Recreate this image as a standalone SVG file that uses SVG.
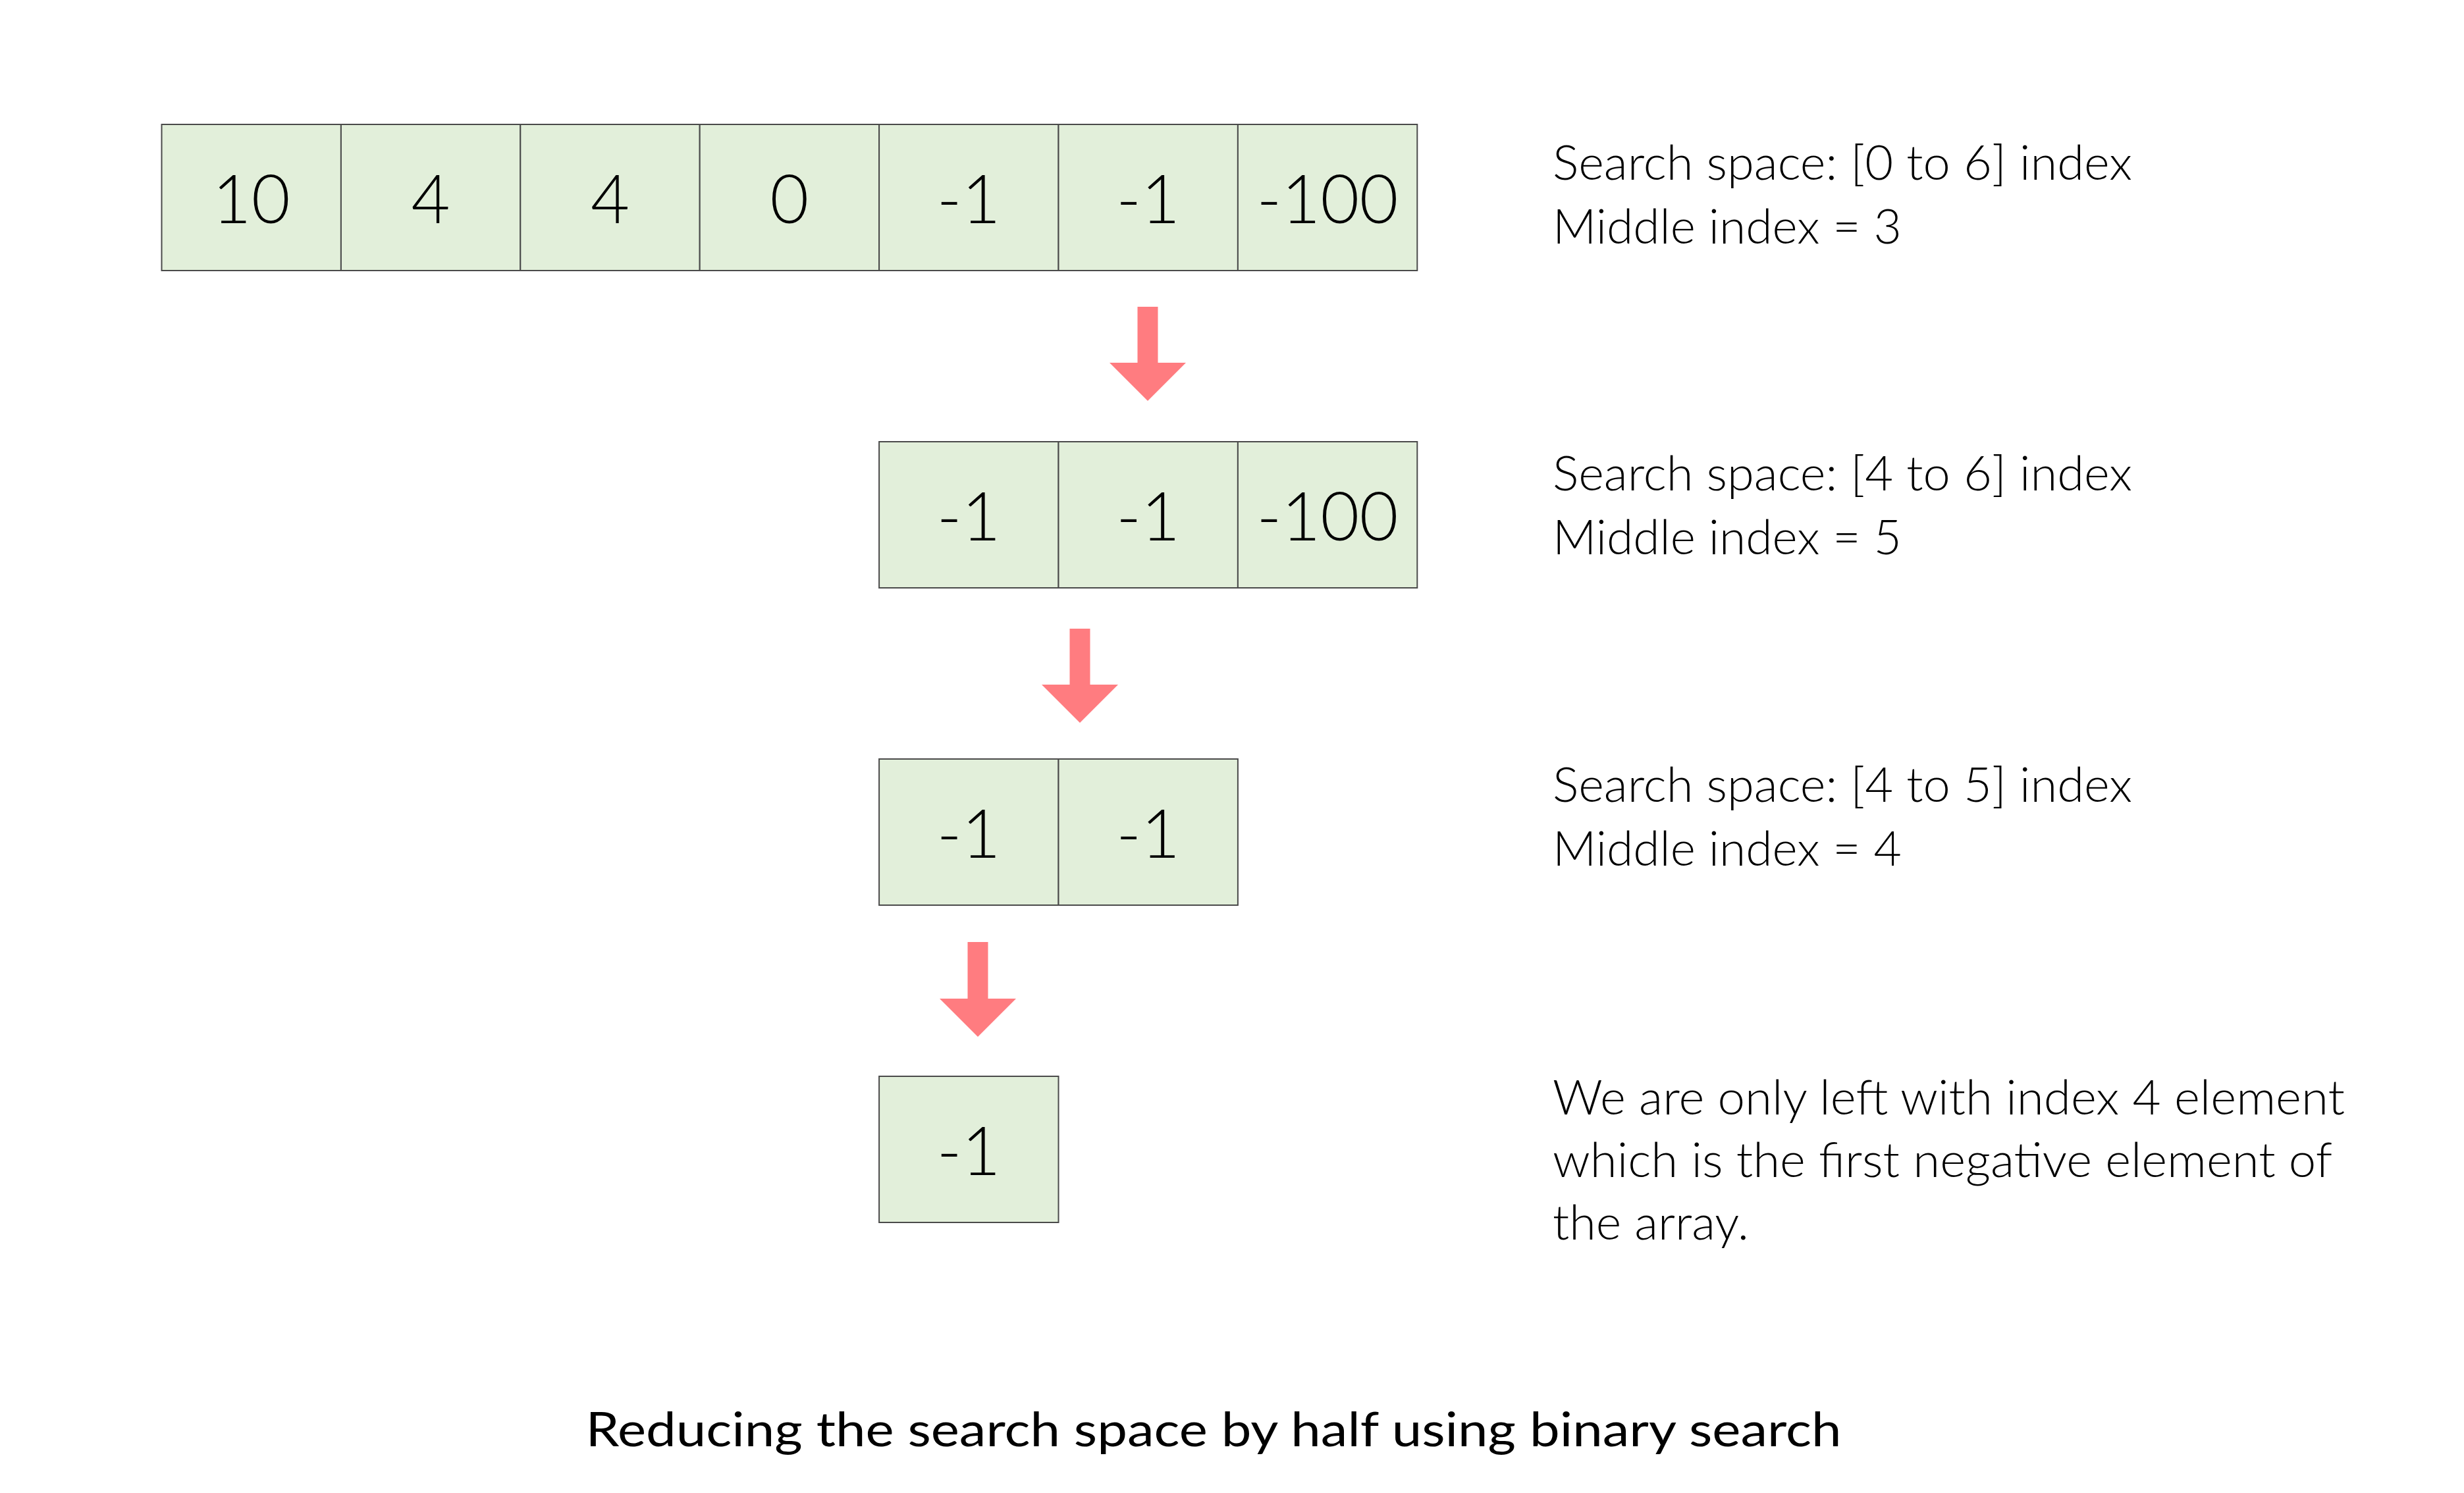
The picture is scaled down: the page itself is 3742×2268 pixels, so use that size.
<svg xmlns="http://www.w3.org/2000/svg" width="3742" height="2268" viewBox="0 0 3742 2268">
<style>
.cell{fill:#E2EFDA;stroke:#4a4a4a;stroke-width:2}
.num{font-family:Lato,"Open Sans","Liberation Sans",sans-serif;font-weight:300;font-size:102px;fill:#000;text-anchor:middle}
.lbl{font-family:Lato,"Open Sans","Liberation Sans",sans-serif;font-weight:300;font-size:73px;fill:#000}
.title{font-family:Lato,"Open Sans","Liberation Sans",sans-serif;font-weight:400;font-size:72px;fill:#000;text-anchor:middle}
.arrow{fill:#FF7C80}
</style>
<rect width="3742" height="2268" fill="#fff"/>
<g id="row1">
<g id="r1c0"><rect class="cell" x="245.5" y="189" width="272.4" height="222"/><text class="num" x="381.7" y="339">10</text></g>
<g id="r1c1"><rect class="cell" x="517.9" y="189" width="272.4" height="222"/><text class="num" x="654.1" y="339">4</text></g>
<g id="r1c2"><rect class="cell" x="790.3" y="189" width="272.4" height="222"/><text class="num" x="926.5" y="339">4</text></g>
<g id="r1c3"><rect class="cell" x="1062.7" y="189" width="272.4" height="222"/><text class="num" x="1198.9" y="339">0</text></g>
<g id="r1c4"><rect class="cell" x="1335.1" y="189" width="272.4" height="222"/><text class="num" x="1471.3" y="339">-1</text></g>
<g id="r1c5"><rect class="cell" x="1607.5" y="189" width="272.4" height="222"/><text class="num" x="1743.7" y="339">-1</text></g>
<g id="r1c6"><rect class="cell" x="1879.9" y="189" width="272.4" height="222"/><text class="num" x="2016.1" y="339">-100</text></g>
</g>
<g id="row2">
<g id="r2c4"><rect class="cell" x="1335.1" y="671" width="272.4" height="222"/><text class="num" x="1471.3" y="821">-1</text></g>
<g id="r2c5"><rect class="cell" x="1607.5" y="671" width="272.4" height="222"/><text class="num" x="1743.7" y="821">-1</text></g>
<g id="r2c6"><rect class="cell" x="1879.9" y="671" width="272.4" height="222"/><text class="num" x="2016.1" y="821">-100</text></g>
</g>
<g id="row3">
<g id="r3c4"><rect class="cell" x="1335.1" y="1153" width="272.4" height="222"/><text class="num" x="1471.3" y="1303">-1</text></g>
<g id="r3c5"><rect class="cell" x="1607.5" y="1153" width="272.4" height="222"/><text class="num" x="1743.7" y="1303">-1</text></g>
</g>
<g id="row4">
<g id="r4c4"><rect class="cell" x="1335.1" y="1635" width="272.4" height="222"/><text class="num" x="1471.3" y="1785">-1</text></g>
</g>
<g id="connectors">
<polygon class="arrow" points="1727.5,466 1758.5,466 1758.5,551 1801,551 1743,609 1685,551 1727.5,551"/>
<polygon class="arrow" points="1624.5,955 1655.5,955 1655.5,1040 1698,1040 1640,1098 1582,1040 1624.5,1040"/>
<polygon class="arrow" points="1469.5,1431 1500.5,1431 1500.5,1517 1543,1517 1485,1575 1427,1517 1469.5,1517"/>
</g>
<g id="label1">
<text class="lbl" x="2358" y="273" textLength="880" lengthAdjust="spacingAndGlyphs">Search space: [0 to 6] index</text>
<text class="lbl" x="2358" y="370" textLength="530" lengthAdjust="spacingAndGlyphs">Middle index = 3</text>
</g>
<g id="label2">
<text class="lbl" x="2358" y="745" textLength="880" lengthAdjust="spacingAndGlyphs">Search space: [4 to 6] index</text>
<text class="lbl" x="2358" y="842" textLength="530" lengthAdjust="spacingAndGlyphs">Middle index = 5</text>
</g>
<g id="label3">
<text class="lbl" x="2358" y="1218" textLength="880" lengthAdjust="spacingAndGlyphs">Search space: [4 to 5] index</text>
<text class="lbl" x="2358" y="1315" textLength="530" lengthAdjust="spacingAndGlyphs">Middle index = 4</text>
</g>
<g id="label4">
<text class="lbl" x="2358" y="1693" textLength="1203" lengthAdjust="spacingAndGlyphs">We are only left with index 4 element</text>
<text class="lbl" x="2358" y="1788" textLength="1184" lengthAdjust="spacingAndGlyphs">which is the first negative element of</text>
<text class="lbl" x="2358" y="1883" textLength="298" lengthAdjust="spacingAndGlyphs">the array.</text>
</g>
<g id="caption">
<text class="title" x="1843" y="2197" textLength="1907" lengthAdjust="spacingAndGlyphs">Reducing the search space by half using binary search</text>
</g>
</svg>
